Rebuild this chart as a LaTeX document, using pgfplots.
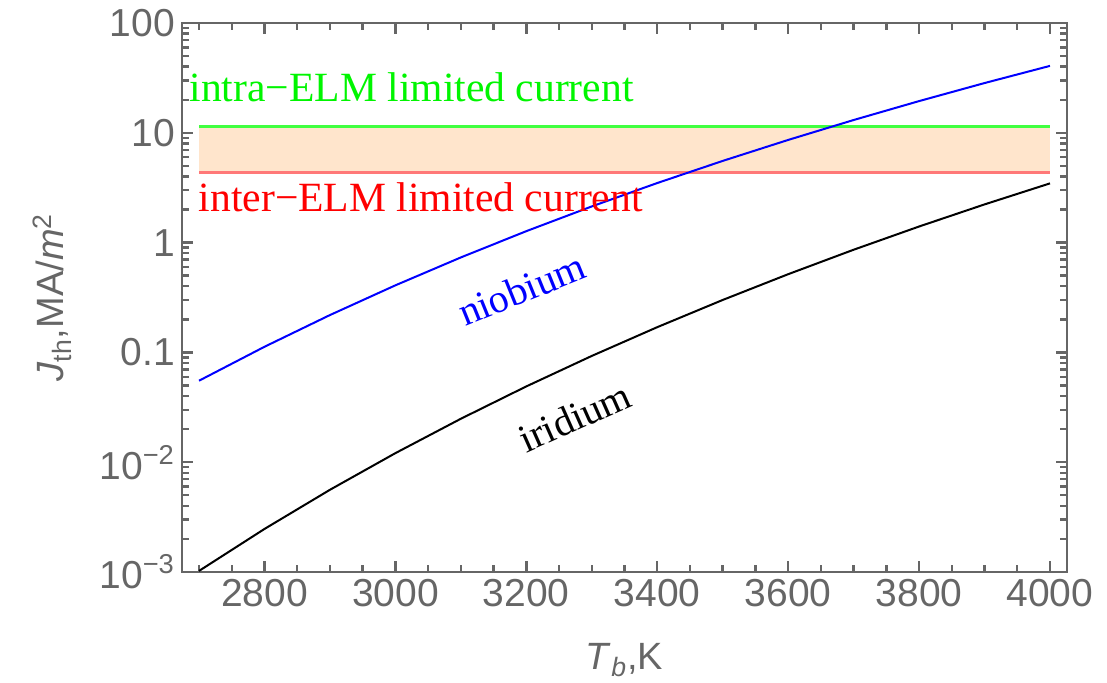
\documentclass[border=0pt]{standalone}
\usepackage{fontspec}
\setmainfont{Liberation Sans}
\newfontfamily\serifC{Liberation Serif}
\usepackage{pgfplots}
\pgfplotsset{compat=1.18}
\definecolor{framegray}{RGB}{102,102,102}
\definecolor{bandfill}{RGB}{255,229,204}
\definecolor{lgreen}{RGB}{64,255,64}
\definecolor{lred}{RGB}{255,120,120}
\definecolor{tgreen}{RGB}{0,245,0}
\begin{document}
\begin{tikzpicture}
\useasboundingbox (-91pt,-55.5pt) rectangle (462.5pt,286pt);
\begin{axis}[
  scale only axis, width=442.5pt, height=274.5pt,
  xmin=2674, xmax=4026, ymin=1e-3, ymax=100, ymode=log,
  axis line style={framegray, line width=1.2pt},
  every tick/.style={framegray, line width=1.2pt},
  major tick length=5.5pt, minor tick length=3.5pt,
  xtick={2800,3000,3200,3400,3600,3800,4000},
  xticklabels={2800,3000,3200,3400,3600,3800,4000},
  minor xtick={2700,2750,2850,2900,2950,3050,3100,3150,3250,3300,3350,3450,3500,3550,3650,3700,3750,3850,3900,3950,4000},
  ytick={1e-3,1e-2,1e-1,1,10,100},
  yticklabels={10\textsuperscript{−3},10\textsuperscript{−2},0.1,1,10,100},
  minor ytick={2e-3,3e-3,4e-3,5e-3,6e-3,7e-3,8e-3,9e-3,0.02,0.03,0.04,0.05,0.06,0.07,0.08,0.09,0.2,0.3,0.4,0.5,0.6,0.7,0.8,0.9,2,3,4,5,6,7,8,9,20,30,40,50,60,70,80,90},
  tick label style={font=\fontsize{19.5}{22}\selectfont, text=framegray},
  xlabel={\textit{T}\textsubscript{\textit{b}},K},
  ylabel={\textit{J}\textsubscript{th},MA/\textit{m}\textsuperscript{2}},
  label style={font=\fontsize{19}{22}\selectfont, text=framegray},
  xlabel style={at={(axis description cs:0.5,-0.16)}, anchor=center},
  ylabel style={at={(axis description cs:-0.147,0.5)}, anchor=center},
]
\addplot[fill=bandfill, draw=none] coordinates {(2700,4.37) (4000,4.37) (4000,11.4) (2700,11.4)} -- cycle;
\addplot[lgreen, line width=1.3pt] coordinates {(2700,11.4) (4000,11.4)};
\addplot[lred, line width=1.3pt] coordinates {(2700,4.37) (4000,4.37)};
\addplot[blue, line width=1pt] coordinates {
(2700,0.05521) (2800,0.1125) (2900,0.2188) (3000,0.4081) (3100,0.7326)
(3200,1.271) (3300,2.135) (3400,3.486) (3500,5.545) (3600,8.608)
(3700,13.07) (3800,19.44) (3900,28.38) (4000,40.68)};
\addplot[black, line width=1pt] coordinates {
(2700,0.001023) (2800,0.002466) (2900,0.005606) (3000,0.01209) (3100,0.02487)
(3200,0.04900) (3300,0.09285) (3400,0.1697) (3500,0.3002) (3600,0.5154)
(3700,0.8608) (3800,1.401) (3900,2.227) (4000,3.462)};
\node[anchor=base west, text=tgreen, font=\serifC\fontsize{20.8}{24}\selectfont, inner sep=0pt] at (axis cs:2685,19.4) {intra−ELM limited current};
\node[anchor=base west, text=red, font=\serifC\fontsize{20.8}{24}\selectfont, inner sep=0pt] at (axis cs:2699,1.94) {inter−ELM limited current};
\node[rotate=22, text=blue, font=\serifC\fontsize{20}{24}\selectfont, inner sep=0pt] at (axis cs:3193,0.376) {niobium};
\node[rotate=24, text=black, font=\serifC\fontsize{20}{24}\selectfont, inner sep=0pt] at (axis cs:3274,0.0258) {iridium};
\end{axis}
\end{tikzpicture}
\end{document}
